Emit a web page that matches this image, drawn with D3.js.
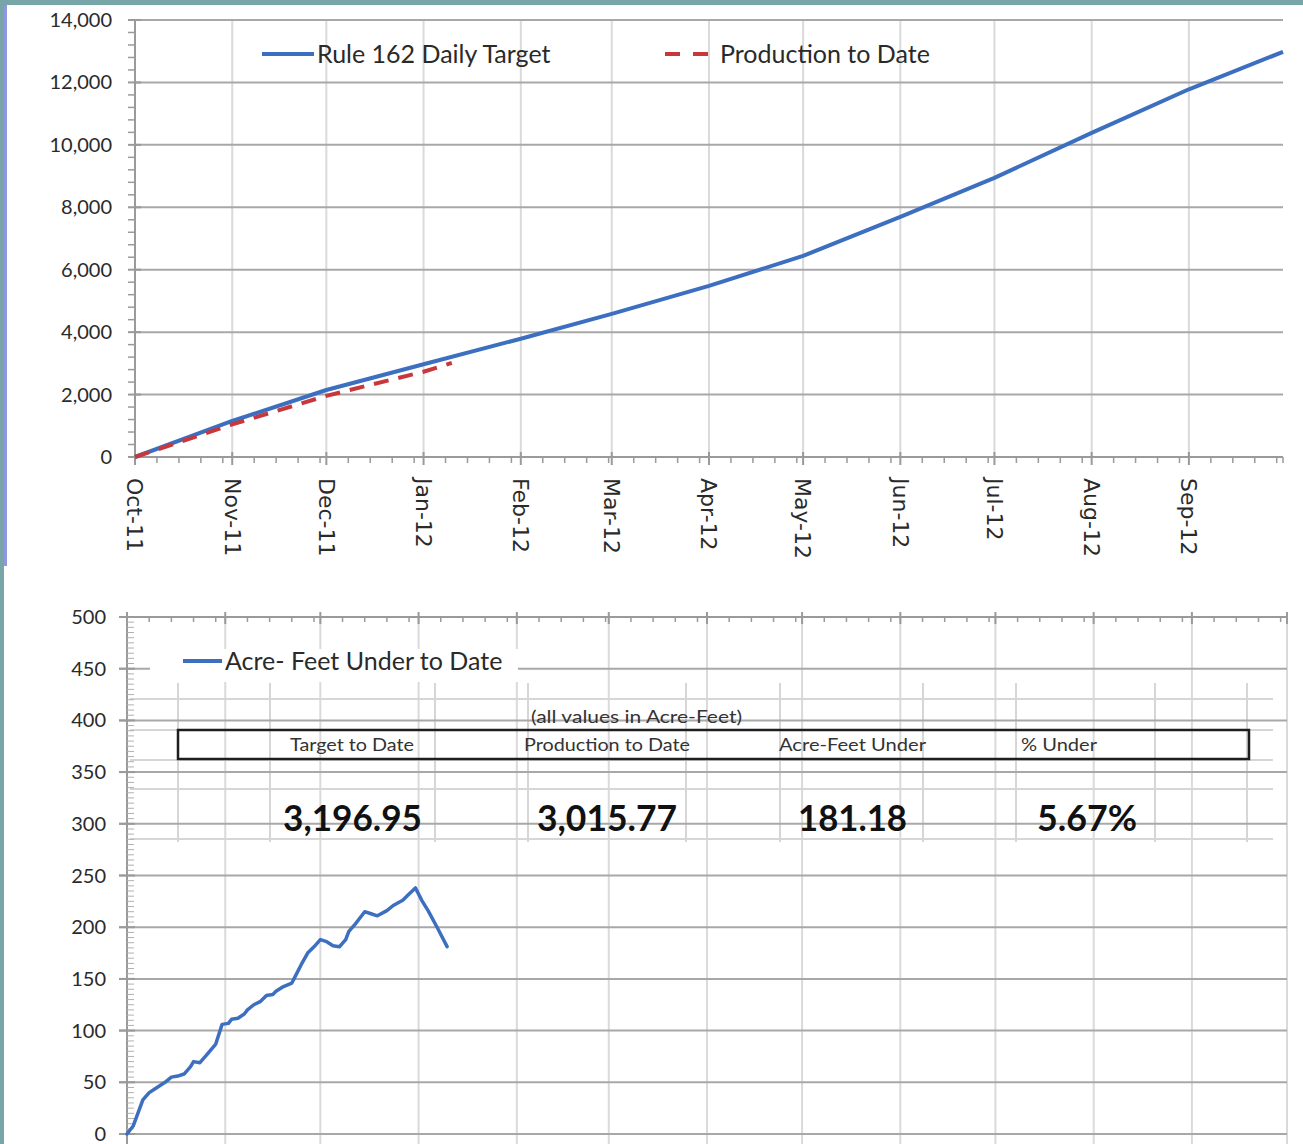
<!DOCTYPE html>
<html><head><meta charset="utf-8">
<script src="https://cdn.jsdelivr.net/npm/d3@7"></script>
<style>
html,body{margin:0;padding:0;background:#fff;}
svg{display:block;}
text{font-family:Lato,"Open Sans",sans-serif;}
</style></head><body>
<svg id="c" width="1303" height="1144"></svg>
<script>
// ---------------- DATA ----------------
const monthLabels = ["Oct-11","Nov-11","Dec-11","Jan-12","Feb-12","Mar-12","Apr-12","May-12","Jun-12","Jul-12","Aug-12","Sep-12"];
const monthStarts = ["2011-10-01","2011-11-01","2011-12-01","2012-01-01","2012-02-01","2012-03-01","2012-04-01","2012-05-01","2012-06-01","2012-07-01","2012-08-01","2012-09-01"];
const axisEnd = "2012-10-01";

const targetDates  = ["2011-10-01","2011-11-01","2011-12-01","2012-01-01","2012-02-01","2012-03-01","2012-04-01","2012-05-01","2012-06-01","2012-07-01","2012-08-01","2012-09-01","2012-10-01"];
const targetValues = [0,1154,2147,2970,3790,4583,5481,6442,7692,8942,10385,11780,12981];

const productionDates  = ["2011-10-01","2011-11-01","2011-12-01","2012-01-01","2012-01-10"];
const productionValues = [0,1047,1959,2732,3015.77];

const underDates = ["2011-10-01","2011-10-03","2011-10-06","2011-10-08","2011-10-10","2011-10-13","2011-10-15","2011-10-17","2011-10-19","2011-10-21","2011-10-22","2011-10-24","2011-10-26","2011-10-29","2011-10-31",
  "2011-11-02","2011-11-03","2011-11-05","2011-11-07","2011-11-08","2011-11-10","2011-11-12","2011-11-14","2011-11-16","2011-11-17","2011-11-19","2011-11-22","2011-11-23","2011-11-25","2011-11-27","2011-11-29",
  "2011-12-01","2011-12-03","2011-12-05","2011-12-07","2011-12-09","2011-12-10","2011-12-12","2011-12-13","2011-12-15","2011-12-17","2011-12-19","2011-12-22","2011-12-24","2011-12-27","2011-12-29","2011-12-31",
  "2012-01-02","2012-01-04","2012-01-07","2012-01-10"];
const underValues = [0,8,33,40,44,50,55,56,58,65,70,69,76,87,106,
  107,111,112,116,120,125,128,134,135,138,142,146,152,164,175,181,
  188,186,182,181,188,196,203,207,215,213,211,216,221,226,232,238,
  226,216,199,181.18];

const topYTicks = [0,2000,4000,6000,8000,10000,12000,14000];
const bottomYTicks = [0,50,100,150,200,250,300,350,400,450,500];

const legendTop = ["Rule 162 Daily Target","Production to Date"];
const legendBottom = "Acre- Feet Under to Date";
const tableNote = "(all values in Acre-Feet)";
const tableHeaders = ["Target to Date","Production to Date","Acre-Feet Under","% Under"];
const tableValues = ["3,196.95","3,015.77","181.18","5.67%"];

// ---------------- LAYOUT ----------------
const BLUE = "#3d6fc0", RED = "#c8373a";
const GRID_H = "#a8a8a8", GRID_V = "#dadada", AXIS = "#9a9a9a", TXT = "#2a2a2a";
const parse = d3.timeParse("%Y-%m-%d");
const svg = d3.select("#c");

// frame
svg.append("rect").attr("x",0).attr("y",0).attr("width",1303).attr("height",1144).attr("fill","#fff");
svg.append("rect").attr("x",0).attr("y",0).attr("width",1303).attr("height",5).attr("fill","#78a6a8");
svg.append("rect").attr("x",0).attr("y",0).attr("width",4).attr("height",1144).attr("fill","#78a6a8");
svg.append("rect").attr("x",4).attr("y",5).attr("width",3).attr("height",561).attr("fill","#8d98e0");

const months = monthStarts.map(parse);
const dStart = months[0], dEnd = parse(axisEnd);
const weekTicks = d3.timeDay.every(7).range(dStart, dEnd).filter(d => d.getDate() !== 1);

// ================= TOP CHART =================
const T = {x0:135, x1:1283, y0:20, y1:457};
const xT = d3.scaleTime().domain([dStart, dEnd]).range([T.x0, T.x1]);
const yT = d3.scaleLinear().domain([0,14000]).range([T.y1, T.y0]);
const gT = svg.append("g");

gT.selectAll(".vg").data(months.slice(1)).join("line")
  .attr("x1", d=>xT(d)).attr("x2", d=>xT(d)).attr("y1", T.y0).attr("y2", T.y1)
  .attr("stroke", GRID_V).attr("stroke-width", 2);
gT.selectAll(".hg").data(topYTicks.filter(v=>v>0)).join("line")
  .attr("x1", T.x0).attr("x2", T.x1).attr("y1", d=>yT(d)).attr("y2", d=>yT(d))
  .attr("stroke", GRID_H).attr("stroke-width", 2);
gT.append("line").attr("x1",T.x0).attr("x2",T.x0).attr("y1",T.y0).attr("y2",T.y1).attr("stroke",AXIS).attr("stroke-width",2);
gT.selectAll(".ymin").data(d3.range(0,14001,400).filter(v=>v%2000!==0)).join("line")
  .attr("x1",T.x0-7).attr("x2",T.x0).attr("y1",d=>yT(d)).attr("y2",d=>yT(d)).attr("stroke",AXIS).attr("stroke-width",1.5);
gT.selectAll(".ymaj").data(topYTicks).join("line")
  .attr("x1",T.x0-7).attr("x2",T.x0+6).attr("y1",d=>yT(d)).attr("y2",d=>yT(d)).attr("stroke",AXIS).attr("stroke-width",2);
gT.selectAll(".ylab").data(topYTicks).join("text")
  .attr("x",112).attr("y",d=>yT(d)).attr("dy","0.35em").attr("text-anchor","end")
  .attr("font-size",20).attr("fill",TXT).text(d3.format(","));
gT.append("line").attr("x1",T.x0).attr("x2",T.x1).attr("y1",T.y1).attr("y2",T.y1).attr("stroke",AXIS).attr("stroke-width",2);
gT.selectAll(".xmin").data(weekTicks.concat([dEnd])).join("line")
  .attr("x1",d=>xT(d)).attr("x2",d=>xT(d)).attr("y1",T.y1).attr("y2",T.y1+6).attr("stroke",AXIS).attr("stroke-width",1.5);
gT.selectAll(".xmaj").data(months).join("line")
  .attr("x1",d=>xT(d)).attr("x2",d=>xT(d)).attr("y1",T.y1-5).attr("y2",T.y1+8).attr("stroke",AXIS).attr("stroke-width",2);
gT.selectAll(".xlab").data(months).join("text")
  .attr("transform",d=>`translate(${xT(d)},478) rotate(90)`)
  .attr("dy","0.35em").attr("text-anchor","start")
  .style("font-family","'DejaVu Sans',sans-serif").attr("font-size",22).attr("fill",TXT)
  .text((d,i)=>monthLabels[i]);

const lineT = d3.line().x(d=>xT(d[0])).y(d=>yT(d[1]));
const targetData = targetDates.map((d,i)=>[parse(d), targetValues[i]]);
const prodData = productionDates.map((d,i)=>[parse(d), productionValues[i]]);
gT.append("path").datum(targetData).attr("d",lineT).attr("fill","none")
  .attr("stroke",BLUE).attr("stroke-width",4).attr("stroke-linejoin","round");
gT.append("path").datum(prodData).attr("d",lineT).attr("fill","none")
  .attr("stroke",RED).attr("stroke-width",4).attr("stroke-dasharray","15,10");

gT.append("line").attr("x1",262).attr("x2",314).attr("y1",54).attr("y2",54).attr("stroke",BLUE).attr("stroke-width",4);
gT.append("text").attr("x",317).attr("y",63).attr("font-size",25).attr("fill",TXT).text(legendTop[0]);
gT.append("line").attr("x1",665).attr("x2",710).attr("y1",54).attr("y2",54).attr("stroke",RED).attr("stroke-width",4).attr("stroke-dasharray","15,13");
gT.append("text").attr("x",720).attr("y",63).attr("font-size",25).attr("fill",TXT).text(legendTop[1]);

// ================= BOTTOM CHART =================
const B = {x0:127, x1:1287, y0:617, y1:1134};
const xB = d3.scaleTime().domain([dStart, dEnd]).range([B.x0, B.x1]);
const yB = d3.scaleLinear().domain([0,500]).range([B.y1, B.y0]);
const gB = svg.append("g");

gB.selectAll(".vg").data(months.slice(1).concat([dEnd])).join("line")
  .attr("x1",d=>xB(d)).attr("x2",d=>xB(d)).attr("y1",B.y0).attr("y2",1144)
  .attr("stroke",GRID_V).attr("stroke-width",2);

const tbl = {x0:130, x1:1273, y0:683, y1:842,
  hLines:[699,730,760,789,839], vLines:[178,270,435,528,686,780,923,1016,1155,1247]};
gB.selectAll(".th").data(tbl.hLines).join("line")
  .attr("x1",tbl.x0).attr("x2",tbl.x1).attr("y1",d=>d).attr("y2",d=>d)
  .attr("stroke","#d6d6d6").attr("stroke-width",2);
gB.selectAll(".tv").data(tbl.vLines).join("line")
  .attr("x1",d=>d).attr("x2",d=>d).attr("y1",tbl.y0).attr("y2",tbl.y1)
  .attr("stroke","#d6d6d6").attr("stroke-width",2);

gB.selectAll(".hg").data(bottomYTicks.filter(v=>v<500)).join("line")
  .attr("x1",B.x0-8).attr("x2",B.x1).attr("y1",d=>yB(d)).attr("y2",d=>yB(d))
  .attr("stroke",GRID_H).attr("stroke-width",2);
gB.append("line").attr("x1",B.x0-8).attr("x2",B.x1).attr("y1",B.y0).attr("y2",B.y0).attr("stroke",AXIS).attr("stroke-width",2);
gB.selectAll(".xmin").data(weekTicks).join("line")
  .attr("x1",d=>xB(d)).attr("x2",d=>xB(d)).attr("y1",B.y0).attr("y2",B.y0+5).attr("stroke",AXIS).attr("stroke-width",1.5);
gB.selectAll(".xmaj").data(months.concat([dEnd])).join("line")
  .attr("x1",d=>xB(d)).attr("x2",d=>xB(d)).attr("y1",B.y0-5).attr("y2",B.y0+7).attr("stroke",AXIS).attr("stroke-width",2);
gB.append("line").attr("x1",B.x0).attr("x2",B.x0).attr("y1",B.y0).attr("y2",1144).attr("stroke",AXIS).attr("stroke-width",2);
gB.selectAll(".ymin").data(d3.range(0,501,5).filter(v=>v%50!==0)).join("line")
  .attr("x1",B.x0).attr("x2",B.x0+7).attr("y1",d=>yB(d)).attr("y2",d=>yB(d)).attr("stroke","#b0b0b0").attr("stroke-width",1);
gB.selectAll(".ymaj").data(bottomYTicks).join("line")
  .attr("x1",B.x0-8).attr("x2",B.x0+8).attr("y1",d=>yB(d)).attr("y2",d=>yB(d)).attr("stroke",AXIS).attr("stroke-width",2);
gB.selectAll(".ylab").data(bottomYTicks).join("text")
  .attr("x",106).attr("y",d=>yB(d)).attr("dy","0.35em").attr("text-anchor","end")
  .attr("font-size",20).attr("fill",TXT).text(d3.format(","));

gB.append("rect").attr("x",150).attr("y",649).attr("width",368).attr("height",33).attr("fill","#fff");
gB.append("line").attr("x1",183).attr("x2",222).attr("y1",661).attr("y2",661).attr("stroke",BLUE).attr("stroke-width",4);
gB.append("text").attr("x",225).attr("y",670).attr("font-size",25).attr("fill",TXT).text(legendBottom);

gB.append("rect").attr("x",178).attr("y",730).attr("width",1071).attr("height",29)
  .attr("fill","none").attr("stroke","#1e1e1e").attr("stroke-width",2.5);
gB.append("text").attr("x",531).attr("y",723).attr("font-size",17).attr("fill","#333")
  .attr("textLength",211).attr("lengthAdjust","spacingAndGlyphs").text(tableNote);
const hdrPos = [[290,124],[524,166],[779,147],[1021,76]];
gB.selectAll(".hdr").data(tableHeaders).join("text")
  .attr("x",(d,i)=>hdrPos[i][0]).attr("y",751).attr("font-size",18).attr("fill","#333")
  .attr("textLength",(d,i)=>hdrPos[i][1]).attr("lengthAdjust","spacingAndGlyphs").text(d=>d);
const valPos = [[283,139],[537,140],[798,109],[1037,100]];
gB.selectAll(".val").data(tableValues).join("text")
  .attr("x",(d,i)=>valPos[i][0]).attr("y",831).attr("font-size",36).attr("font-weight","bold").attr("fill","#111")
  .attr("textLength",(d,i)=>valPos[i][1]).attr("lengthAdjust","spacingAndGlyphs").text(d=>d);

const underData = underDates.map((d,i)=>[parse(d), underValues[i]]);
const lineB = d3.line().x(d=>xB(d[0])).y(d=>yB(d[1]));
gB.append("path").datum(underData).attr("d",lineB).attr("fill","none")
  .attr("stroke",BLUE).attr("stroke-width",3.5).attr("stroke-linejoin","round").attr("stroke-linecap","round");
</script>
</body></html>
